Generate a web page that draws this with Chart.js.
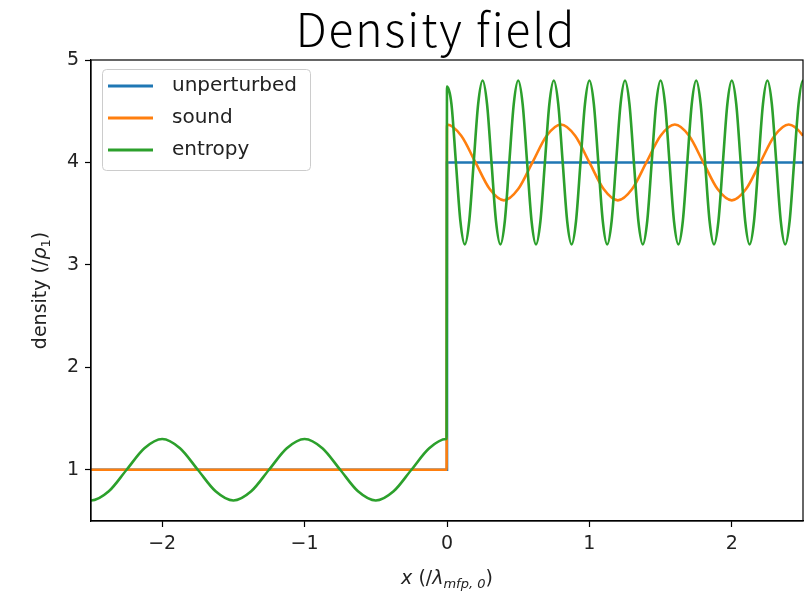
<!DOCTYPE html>
<html><head><meta charset="utf-8">
<script src="https://cdn.jsdelivr.net/npm/chart.js@4/dist/chart.umd.min.js"></script>
<style>html,body{margin:0;padding:0;background:#fff}</style>
</head><body>
<canvas id="c" width="810" height="592"></canvas>
<script>
const chartTitle = 'Density field';
const seriesLabels = ['unperturbed', 'sound', 'entropy'];
const seriesColors = ['#1f77b4', '#ff7f0e', '#2ca02c'];
const xTicks = [-2, -1, 0, 1, 2];
const yTicks = [1, 2, 3, 4, 5];

const unperturbedX = [-2.5, 0, 0, 2.5];
const unperturbedY = [1, 1, 4, 4];

const soundX = [-2.5, -0.003, 0, 0.1, 0.2, 0.3, 0.4, 0.5, 0.6, 0.7, 0.8, 0.9, 1.0, 1.1, 1.2, 1.3, 1.4, 1.5, 1.6, 1.7, 1.8, 1.9, 2.0, 2.1, 2.2, 2.3, 2.4, 2.5, 2.6];
const soundY = [1, 1, 4.37, 4.26, 4.0, 3.74, 3.63, 3.74, 4.0, 4.26, 4.37, 4.26, 4.0, 3.74, 3.63, 3.74, 4.0, 4.26, 4.37, 4.26, 4.0, 3.74, 3.63, 3.74, 4.0, 4.26, 4.37, 4.26, 4.0];

const entropyX = [-2.625, -2.5, -2.375, -2.25, -2.125, -2, -1.875, -1.75, -1.625, -1.5, -1.375, -1.25, -1.125, -1, -0.875, -0.75, -0.625, -0.5, -0.375, -0.25, -0.125, -0.006, -0.003,
  0, 0.03125, 0.0625, 0.09375, 0.125, 0.15625, 0.1875, 0.21875,
  0.25, 0.28125, 0.3125, 0.34375, 0.375, 0.40625, 0.4375, 0.46875,
  0.5, 0.53125, 0.5625, 0.59375, 0.625, 0.65625, 0.6875, 0.71875,
  0.75, 0.78125, 0.8125, 0.84375, 0.875, 0.90625, 0.9375, 0.96875,
  1.0, 1.03125, 1.0625, 1.09375, 1.125, 1.15625, 1.1875, 1.21875,
  1.25, 1.28125, 1.3125, 1.34375, 1.375, 1.40625, 1.4375, 1.46875,
  1.5, 1.53125, 1.5625, 1.59375, 1.625, 1.65625, 1.6875, 1.71875,
  1.75, 1.78125, 1.8125, 1.84375, 1.875, 1.90625, 1.9375, 1.96875,
  2.0, 2.03125, 2.0625, 2.09375, 2.125, 2.15625, 2.1875, 2.21875,
  2.25, 2.28125, 2.3125, 2.34375, 2.375, 2.40625, 2.4375, 2.46875,
  2.5, 2.53125];
const entropyY = [0.79, 0.7, 0.79, 1.0, 1.21, 1.3, 1.21, 1.0, 0.79, 0.7, 0.79, 1.0, 1.21, 1.3, 1.21, 1.0, 0.79, 0.7, 0.79, 1.0, 1.21, 1.3, 1.3,
  4.74, 4.57, 4.0, 3.43, 3.2, 3.43, 4.0, 4.57,
  4.8, 4.57, 4.0, 3.43, 3.2, 3.43, 4.0, 4.57,
  4.8, 4.57, 4.0, 3.43, 3.2, 3.43, 4.0, 4.57,
  4.8, 4.57, 4.0, 3.43, 3.2, 3.43, 4.0, 4.57,
  4.8, 4.57, 4.0, 3.43, 3.2, 3.43, 4.0, 4.57,
  4.8, 4.57, 4.0, 3.43, 3.2, 3.43, 4.0, 4.57,
  4.8, 4.57, 4.0, 3.43, 3.2, 3.43, 4.0, 4.57,
  4.8, 4.57, 4.0, 3.43, 3.2, 3.43, 4.0, 4.57,
  4.8, 4.57, 4.0, 3.43, 3.2, 3.43, 4.0, 4.57,
  4.8, 4.57, 4.0, 3.43, 3.2, 3.43, 4.0, 4.57,
  4.8, 4.57];

const toPts = (xs, ys) => xs.map((x, i) => ({ x: x, y: ys[i] }));
const fmt = v => (v < 0 ? '\u2212' + Math.abs(v) : String(v));
const FONT = 'DejaVu Sans';

function drawSegs(ctx, segs, x, y) {
  let w = 0;
  segs.forEach(s => { ctx.font = s.font; w += ctx.measureText(s.t).width; });
  let cx = x - w / 2;
  ctx.textAlign = 'left';
  ctx.textBaseline = 'alphabetic';
  segs.forEach(s => {
    ctx.font = s.font;
    ctx.fillText(s.t, cx, y + (s.dy || 0));
    cx += ctx.measureText(s.t).width;
  });
}

const decor = {
  id: 'decor',
  afterDraw(chart) {
    const ctx = chart.ctx, a = chart.chartArea;
    ctx.save();
    ctx.strokeStyle = '#000';
    ctx.lineWidth = 1.2;
    ctx.strokeRect(a.left, a.top, a.right - a.left, a.bottom - a.top);

    ctx.fillStyle = '#000';
    ctx.font = '300 46px "Noto Sans CJK JP"';
    ctx.textAlign = 'center';
    ctx.textBaseline = 'alphabetic';
    if ('letterSpacing' in ctx) ctx.letterSpacing = '2px';
    ctx.fillText(chartTitle, 436, 47);
    if ('letterSpacing' in ctx) ctx.letterSpacing = '0px';

    // legend
    const lx = 102.5, ly = 69.5, lw = 208, lh = 101, r = 4;
    ctx.beginPath();
    ctx.moveTo(lx + r, ly);
    ctx.arcTo(lx + lw, ly, lx + lw, ly + lh, r);
    ctx.arcTo(lx + lw, ly + lh, lx, ly + lh, r);
    ctx.arcTo(lx, ly + lh, lx, ly, r);
    ctx.arcTo(lx, ly, lx + lw, ly, r);
    ctx.closePath();
    ctx.fillStyle = 'rgba(255,255,255,0.8)';
    ctx.fill();
    ctx.strokeStyle = '#cccccc';
    ctx.lineWidth = 1;
    ctx.stroke();
    chart.data.datasets.forEach((ds, i) => {
      const yy = 86 + i * 32;
      ctx.strokeStyle = ds.borderColor;
      ctx.lineWidth = 2.8;
      ctx.beginPath();
      ctx.moveTo(108, yy);
      ctx.lineTo(153, yy);
      ctx.stroke();
      ctx.fillStyle = '#222';
      ctx.font = '20px "' + FONT + '"';
      ctx.textAlign = 'left';
      ctx.textBaseline = 'middle';
      ctx.fillText(ds.label, 172, yy);
    });

    // axis titles
    ctx.fillStyle = '#222';
    drawSegs(ctx, [
      { t: 'x', font: 'italic 19px "' + FONT + '"' },
      { t: ' (/', font: '19px "' + FONT + '"' },
      { t: '\u03bb', font: 'italic 19px "' + FONT + '"' },
      { t: 'mfp, 0', font: 'italic 13px "' + FONT + '"', dy: 4 },
      { t: ')', font: '19px "' + FONT + '"' }
    ], (a.left + a.right) / 2, 584);
    ctx.save();
    ctx.translate(46, (a.top + a.bottom) / 2);
    ctx.rotate(-Math.PI / 2);
    drawSegs(ctx, [
      { t: 'density (/', font: '19px "' + FONT + '"' },
      { t: '\u03c1', font: 'italic 19px "' + FONT + '"' },
      { t: '1', font: '13px "' + FONT + '"', dy: 4 },
      { t: ')', font: '19px "' + FONT + '"' }
    ], 0, 0);
    ctx.restore();
    ctx.restore();
  }
};

new Chart(document.getElementById('c'), {
  type: 'line',
  data: {
    datasets: [
      { label: seriesLabels[0], data: toPts(unperturbedX, unperturbedY), borderColor: seriesColors[0], borderWidth: 2.6, tension: 0, pointRadius: 0, order: 3 },
      { label: seriesLabels[1], data: toPts(soundX, soundY), borderColor: seriesColors[1], borderWidth: 2.6, cubicInterpolationMode: 'monotone', pointRadius: 0, order: 2 },
      { label: seriesLabels[2], data: toPts(entropyX, entropyY), borderColor: seriesColors[2], borderWidth: 2.6, cubicInterpolationMode: 'monotone', pointRadius: 0, order: 1 }
    ]
  },
  options: {
    responsive: false,
    animation: false,
    devicePixelRatio: 1,
    layout: { padding: { top: 60, right: 7, bottom: 0, left: 0 } },
    plugins: { legend: { display: false }, title: { display: false }, tooltip: { enabled: false } },
    scales: {
      x: {
        type: 'linear', min: -2.5, max: 2.5,
        afterBuildTicks: s => { s.ticks = xTicks.map(v => ({ value: v })); },
        afterFit: s => { s.height = 71; },
        ticks: { callback: v => fmt(v), color: '#222', font: { family: FONT, size: 19 }, padding: 6, maxRotation: 0 },
        grid: { drawOnChartArea: false, drawTicks: true, tickLength: 6, color: '#000', tickWidth: 1.2 },
        border: { display: true, color: '#000', width: 1.2 }
      },
      y: {
        type: 'linear', min: 0.5, max: 5,
        afterBuildTicks: s => { s.ticks = yTicks.map(v => ({ value: v })); },
        afterFit: s => { s.width = 91; },
        ticks: { callback: v => fmt(v), color: '#222', font: { family: FONT, size: 19 }, padding: 6 },
        grid: { drawOnChartArea: false, drawTicks: true, tickLength: 6, color: '#000', tickWidth: 1.2 },
        border: { display: true, color: '#000', width: 1.2 }
      }
    }
  },
  plugins: [decor]
});
</script>
</body></html>
